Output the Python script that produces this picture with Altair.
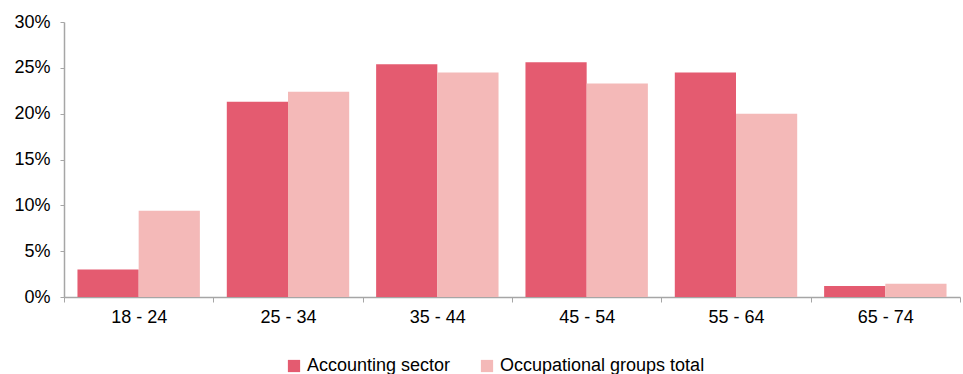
import altair as alt
import pandas as pd

categories = ["18 - 24", "25 - 34", "35 - 44", "45 - 54", "55 - 64", "65 - 74"]
series_names = ["Accounting sector", "Occupational groups total"]
accounting = [3.0, 21.3, 25.4, 25.6, 24.5, 1.2]
occupational = [9.4, 22.4, 24.5, 23.3, 20.0, 1.45]
colors = ["#E45B70", "#F4B9B8"]

rows = []
for c, a, o in zip(categories, accounting, occupational):
    rows.append({"age": c, "series": series_names[0], "value": a / 100})
    rows.append({"age": c, "series": series_names[1], "value": o / 100})
df = pd.DataFrame(rows)

FONT = "Liberation Sans"
FS = 18

chart = alt.Chart(df).mark_bar().encode(
    x=alt.X("age:N", sort=categories, title=None,
            scale=alt.Scale(paddingInner=0, paddingOuter=0),
            axis=alt.Axis(labelAngle=0, tickBand="extent", domainColor="#A6A6A6",
                          tickColor="#A6A6A6", tickSize=5, labelPadding=6,
                          labelFontSize=FS, labelColor="#000000", labelFont=FONT,
                          grid=False, domainWidth=1.5)),
    xOffset=alt.XOffset("series:N", sort=series_names,
                        scale=alt.Scale(paddingInner=0, paddingOuter=0.22)),
    y=alt.Y("value:Q", title=None,
            scale=alt.Scale(domain=[0, 0.3], nice=False),
            axis=alt.Axis(format=".0%", values=[0, 0.05, 0.1, 0.15, 0.2, 0.25, 0.3],
                          domainColor="#A6A6A6", tickColor="#A6A6A6", tickSize=4,
                          labelPadding=10, labelFontSize=FS, labelColor="#000000",
                          labelFont=FONT, grid=False, domainWidth=1.5)),
    color=alt.Color("series:N", sort=series_names,
                    scale=alt.Scale(domain=series_names, range=colors),
                    legend=alt.Legend(title=None, orient="none", direction="horizontal",
                                      legendX=221, legendY=335, symbolType="square",
                                      symbolSize=150, symbolStrokeWidth=0,
                                      labelFontSize=FS, labelFont=FONT,
                                      labelColor="#000000", labelOffset=4,
                                      labelLimit=500,
                                      columnPadding=27, padding=0)),
).properties(
    width=896, height=275,
    autosize=alt.AutoSizeParams(type="none"),
    padding={"left": 64, "top": 22, "right": 3, "bottom": 77},
).configure_view(stroke=None)

chart.save("out.html", embed_options={"renderer": "svg", "actions": False})
